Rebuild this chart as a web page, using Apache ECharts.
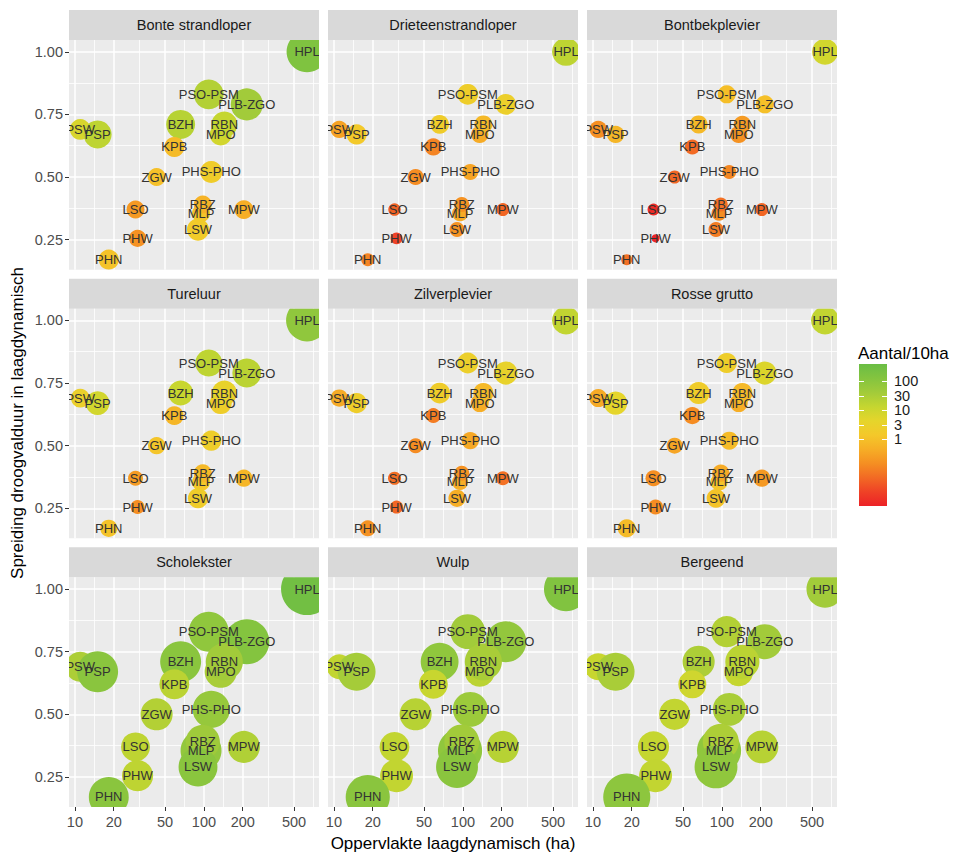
<!DOCTYPE html>
<html lang="nl">

<head>
    <title>Dichtheid per gebied</title>
    <meta charset="UTF-8">
    <style type="text/css">
        html,
        body {
            margin: 0px;
            background: #ffffff;
        }
    </style>
    <script type="text/javascript" src="https://cdn.jsdelivr.net/npm/echarts@6/dist/echarts.min.js"></script>
</head>

<body>
    <div id="chart" style="width: 954px; height: 854px;"></div>
</body>

<script type="text/javascript">
    var soorten = ['Bonte strandloper', 'Drieteenstrandloper', 'Bontbekplevier',
        'Tureluur', 'Zilverplevier', 'Rosse grutto',
        'Scholekster', 'Wulp', 'Bergeend'];

    var gebieden = ['HPL', 'PSO-PSM', 'PLB-ZGO', 'BZH', 'MPO', 'RBN', 'PSW', 'PSP', 'KPB',
        'ZGW', 'PHS-PHO', 'LSO', 'MLP', 'RBZ', 'MPW', 'LSW', 'PHW', 'PHN'];

    // oppervlakte laagdynamisch (ha)
    var oppervlakte = [630, 109, 215, 66, 135, 144, 11, 15, 59, 43, 114, 29.5, 95, 98, 204, 90, 30.6, 18.3];
    // spreiding droogvalduur
    var spreiding = [1.0, 0.83, 0.79, 0.71, 0.67, 0.71, 0.69, 0.67, 0.62, 0.50, 0.52, 0.37, 0.355, 0.39, 0.37, 0.29, 0.255, 0.17];

    // Aantal/10ha, een rij per soort
    var dichtheid = [
        [154, 23, 40, 20, 8.2, 12.9, 6.5, 16, 0.77, 0.96, 1.9, 0.2, 1.2, 0.55, 0.44, 1.7, 0.16, 1.08],
        [16, 2.1, 2.4, 1.9, 0.39, 0.69, 0.28, 1.5, 0.10, 0.13, 0.31, 0.036, 0.39, 0.16, 0.041, 0.16, 0.015, 0.10],
        [8.2, 0.86, 0.96, 0.69, 0.16, 0.22, 0.14, 0.61, 0.046, 0.041, 0.11, 0.0067, 0.14, 0.057, 0.041, 0.08, 0.005, 0.057],
        [78, 16, 18, 11.5, 2.1, 3.3, 2.7, 8.2, 0.61, 1.2, 2.1, 0.22, 1.35, 0.69, 0.61, 1.9, 0.14, 1.08],
        [14.4, 2.4, 3.3, 1.9, 0.44, 0.69, 0.39, 2.1, 0.08, 0.13, 0.35, 0.051, 0.44, 0.16, 0.057, 0.44, 0.041, 0.16],
        [14.4, 2.1, 5.8, 1.9, 0.44, 0.69, 0.39, 4.2, 0.13, 0.31, 0.77, 0.14, 1.2, 0.39, 0.2, 1.08, 0.13, 0.77],
        [271, 78, 123, 98, 32, 40, 28, 98, 18, 23, 63, 16, 70, 45, 25, 98, 16, 98],
        [138, 40, 70, 78, 18, 32, 14.4, 36, 11.5, 20, 50, 14.4, 78, 40, 20, 98, 14.4, 98],
        [40, 23, 40, 28, 12.9, 18, 11.5, 32, 9.2, 14.4, 32, 12.9, 78, 28, 20, 78, 14.4, 88]
    ];

    // grootte van de bol (relatief), een rij per soort
    var grootte = [
        [62, 33, 38, 31, 18, 25, 16, 29, 15, 12, 18, 12, 12, 12, 13, 18, 11, 15],
        [29, 16, 16, 13, 11, 12, 11, 15, 11, 9.5, 9.5, 5.8, 9.5, 8.3, 6.3, 8.3, 5.3, 6.3],
        [25, 12, 12, 12, 11, 11, 11, 11, 8.3, 6.3, 7.2, 5.3, 8.3, 7.2, 6.3, 8.3, 2.4, 4.5],
        [65, 27, 31, 23, 18, 23, 13, 21, 13, 11, 15, 8.3, 12, 12, 11, 15, 7.2, 11],
        [29, 16, 20, 16, 12, 15, 11, 15, 8.3, 8.3, 11, 6.3, 9.5, 8.3, 7.2, 11, 6.3, 9.5],
        [29, 15, 20, 18, 12, 15, 12, 20, 11, 9.5, 12, 9.5, 11, 11, 11, 13, 8.3, 12],
        [100, 59, 75, 62, 38, 51, 33, 62, 33, 38, 51, 31, 62, 43, 38, 56, 36, 59],
        [72, 45, 62, 53, 33, 51, 23, 53, 31, 38, 45, 33, 72, 45, 38, 65, 40, 72],
        [51, 36, 45, 38, 31, 43, 27, 53, 29, 36, 40, 36, 72, 48, 40, 68, 40, 82]
    ];

    var xTicks = [10, 20, 50, 100, 200, 500];
    var xMinor = [14.14, 31.62, 70.71, 141.4, 316.2, 707.1];
    var yTicks = [0.25, 0.5, 0.75, 1.0];
    var yMinor = [0.375, 0.625, 0.875];
    var legendTicks = [1, 3, 10, 30, 100];
    var kleuren = ['#ec2227', '#ef4226', '#f26a24', '#f58f22', '#f6ae26', '#f4c82a',
        '#e5d52b', '#c5d630', '#a2cb3a', '#84c43f', '#6abd45'];

    var font = 'Liberation Sans, Arial, sans-serif';
    var panelLeft = [69, 328, 587];
    var panelTop = [40, 308.67, 577.33];
    var panelW = 250, panelH = 229.67, stripH = 30;
    var xMin = Math.log10(9), xMax = Math.log10(780);
    var yMin = 0.13, yMax = 1.047;
    var cMin = -2.32, cMax = 2.58;

    function tekenCirkel(params, api) {
        var p = api.coord([api.value(0), api.value(1)]);
        return {
            type: 'circle',
            shape: { cx: p[0], cy: p[1], r: Math.sqrt(api.value(3)) * 2.6 },
            style: { fill: api.visual('color') }
        };
    }

    function tekenLabel(params, api) {
        var p = api.coord([api.value(0), api.value(1)]);
        return {
            type: 'text',
            x: p[0],
            y: p[1],
            style: {
                text: gebieden[params.dataIndex],
                fill: '#333333',
                fontSize: 13,
                fontFamily: font,
                align: 'center', textAlign: 'center',
                verticalAlign: 'middle', textVerticalAlign: 'middle'
            }
        };
    }

    var grids = [], xAxes = [], yAxes = [], series = [], graphics = [], cirkelSeries = [];

    soorten.forEach(function (soort, i) {
        var row = Math.floor(i / 3), col = i % 3;
        var onder = row === 2, links = col === 0;
        grids.push({
            left: panelLeft[col], top: panelTop[row], width: panelW, height: panelH,
            show: true, backgroundColor: '#ebebeb', borderWidth: 0,
            outerBoundsMode: 'none'
        });
        xAxes.push({
            gridIndex: i, type: 'value', min: xMin, max: xMax, position: 'bottom',
            axisLine: { show: false },
            axisTick: { show: onder, length: 4, customValues: xTicks.map(Math.log10), lineStyle: { color: '#333333' } },
            axisLabel: {
                show: onder, customValues: xTicks.map(Math.log10), margin: 7,
                showMinLabel: true, showMaxLabel: true,
                color: '#4d4d4d', fontSize: 14.5, fontFamily: font,
                formatter: function (v) { return Math.round(Math.pow(10, v)); }
            },
            splitLine: { show: true, lineStyle: { color: '#ffffff', width: 1.5 } }
        });
        xAxes.push({
            gridIndex: i, type: 'value', min: xMin, max: xMax, position: 'top',
            axisLine: { show: false },
            axisTick: { show: false, customValues: xMinor.map(Math.log10) },
            axisLabel: { show: false },
            splitLine: { show: true, lineStyle: { color: '#ffffff', width: 0.8 } }
        });
        yAxes.push({
            gridIndex: i, type: 'value', min: yMin, max: yMax, position: 'left',
            axisLine: { show: false },
            axisTick: { show: links, length: 4, customValues: yTicks, lineStyle: { color: '#333333' } },
            axisLabel: {
                show: links, customValues: yTicks, margin: 6,
                showMinLabel: true, showMaxLabel: true,
                color: '#4d4d4d', fontSize: 14.5, fontFamily: font,
                formatter: function (v) { return v.toFixed(2); }
            },
            splitLine: { show: true, lineStyle: { color: '#ffffff', width: 1.5 } }
        });
        yAxes.push({
            gridIndex: i, type: 'value', min: yMin, max: yMax, position: 'right',
            axisLine: { show: false },
            axisTick: { show: false, customValues: yMinor },
            axisLabel: { show: false },
            splitLine: { show: true, lineStyle: { color: '#ffffff', width: 0.8 } }
        });

        var punten = gebieden.map(function (g, k) {
            return [Math.log10(oppervlakte[k]), spreiding[k], Math.log10(dichtheid[i][k]), grootte[i][k]];
        });
        cirkelSeries.push(series.length);
        series.push({
            type: 'custom', name: soort, xAxisIndex: 2 * i, yAxisIndex: 2 * i,
            clip: true, z: 2, silent: true,
            encode: { x: 0, y: 1 },
            data: punten,
            renderItem: tekenCirkel
        });
        series.push({
            type: 'custom', name: soort + ' labels', xAxisIndex: 2 * i, yAxisIndex: 2 * i,
            clip: true, z: 3, silent: true,
            encode: { x: 0, y: 1 },
            data: punten,
            renderItem: tekenLabel
        });

        // strip met soortnaam
        graphics.push({
            type: 'rect', left: panelLeft[col], top: panelTop[row] - stripH,
            shape: { width: panelW, height: stripH },
            style: { fill: '#d9d9d9' }
        });
        graphics.push({
            type: 'text', x: panelLeft[col] + panelW / 2, y: panelTop[row] - stripH / 2,
            style: {
                text: soort, fill: '#1a1a1a', fontSize: 14.5, fontFamily: font,
                align: 'center', textAlign: 'center', verticalAlign: 'middle', textVerticalAlign: 'middle'
            }
        });
    });

    // kleurlegenda: twee gelijke grids, zodat de dicht op elkaar staande labels
    // over twee assen verdeeld worden (anders verbergt echarts er een)
    var legLeft = 859, legTop = 364, legW = 28, legH = 142;
    var legTickVals = legendTicks.map(Math.log10);
    [0, 1].forEach(function (d) {
        var g = grids.length;
        grids.push({ left: legLeft, top: legTop, width: legW, height: legH, show: false, outerBoundsMode: 'none' });
        xAxes.push({ gridIndex: g, type: 'value', show: false });
        var labelVals = legTickVals.filter(function (v, k) { return k % 2 === d; });
        yAxes.push({
            gridIndex: g, type: 'value', min: cMin, max: cMax, position: 'left', z: 10,
            axisLine: { show: false },
            axisTick: { show: d === 0, inside: true, length: 5, customValues: legTickVals, lineStyle: { color: '#ffffff', width: 1 } },
            axisLabel: { show: false },
            splitLine: { show: false }
        });
        yAxes.push({
            gridIndex: g, type: 'value', min: cMin, max: cMax, position: 'right', z: 10,
            axisLine: { show: false },
            axisTick: { show: d === 0, inside: true, length: 5, customValues: d === 0 ? legTickVals : labelVals, lineStyle: { color: '#ffffff', width: 1 } },
            axisLabel: {
                show: true, customValues: labelVals, margin: 7,
                showMinLabel: true, showMaxLabel: true,
                color: '#1a1a1a', fontSize: 14.5, fontFamily: font,
                formatter: function (v) { return Math.round(Math.pow(10, v)); }
            },
            splitLine: { show: false }
        });
    });

    graphics.push({
        type: 'rect', left: legLeft, top: legTop, z: 0,
        shape: { width: legW, height: legH },
        style: {
            fill: {
                type: 'linear', x: 0, y: 0, x2: 0, y2: 1,
                colorStops: kleuren.slice().reverse().map(function (c, k) {
                    return { offset: k / (kleuren.length - 1), color: c };
                })
            }
        }
    });
    graphics.push({
        type: 'text', x: 858, y: 353,
        style: {
            text: 'Aantal/10ha', fill: '#000000', fontSize: 17, fontFamily: font,
            align: 'left', textAlign: 'left', verticalAlign: 'middle', textVerticalAlign: 'middle'
        }
    });

    // astitels
    graphics.push({
        type: 'text', x: 453, y: 843,
        style: {
            text: 'Oppervlakte laagdynamisch (ha)', fill: '#000000', fontSize: 17, fontFamily: font,
            align: 'center', textAlign: 'center', verticalAlign: 'middle', textVerticalAlign: 'middle'
        }
    });
    graphics.push({
        type: 'text', x: 17, y: 423, rotation: Math.PI / 2,
        style: {
            text: 'Spreiding droogvalduur in laagdynamisch', fill: '#000000', fontSize: 17, fontFamily: font,
            align: 'center', textAlign: 'center', verticalAlign: 'middle', textVerticalAlign: 'middle'
        }
    });

    var chart = echarts.init(document.getElementById('chart'), null, { renderer: 'svg' });
    chart.setOption({
        animation: false,
        backgroundColor: '#ffffff',
        grid: grids,
        xAxis: xAxes,
        yAxis: yAxes,
        visualMap: {
            type: 'continuous', show: false, dimension: 2,
            min: cMin, max: cMax, seriesIndex: cirkelSeries,
            inRange: { color: kleuren }
        },
        graphic: { elements: graphics },
        series: series
    });
</script>

</html>
